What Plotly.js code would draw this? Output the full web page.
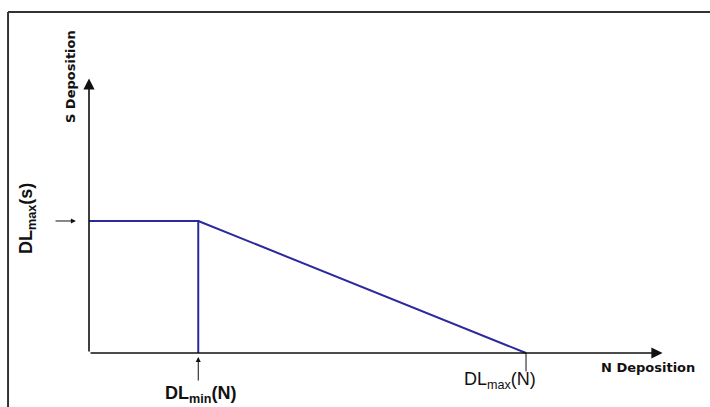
<!DOCTYPE html>
<html>
<head>
<meta charset="utf-8">
<script src="https://cdn.plot.ly/plotly-3.0.1.min.js"></script>
<style>html,body{margin:0;padding:0;background:#fff;}#chart{width:710px;height:407px;}</style>
</head>
<body>
<div id="chart"></div>
<script>
// Conceptual data (units of N and S deposition)
const dlMinN = 1;      // DL_min(N)
const dlMaxN = 4;      // DL_max(N)
const dlMaxS = 1;      // DL_max(S)
const axisMaxX = 5.25; // end of N axis arrow
const axisMaxY = 2.08; // end of S axis arrow

const lineX = [0, dlMinN, dlMinN, null, dlMinN, dlMaxN];
const lineY = [dlMaxS, dlMaxS, 0, null, dlMaxS, 0];

const labels = {
  sAxis: 'S Deposition',
  nAxis: 'N Deposition',
  dlMaxS: 'DL<sub>max</sub>(s)',
  dlMinN: 'DL<sub>min</sub>(N)',
  dlMaxN: 'DL<sub>max</sub>(N)'
};

const FONT = 'Liberation Sans, Arial, sans-serif';
const FONT_SMALL = 'DejaVu Sans, Liberation Sans, sans-serif';
const ink = '#111';

function arrow(x, y, ax, ay, head, w, size) {
  return {x: x, y: y, ax: ax, ay: ay, xref: 'x', yref: 'y', axref: 'x', ayref: 'y',
    text: '', showarrow: true, arrowhead: head, arrowwidth: w, arrowsize: size,
    arrowcolor: ink, standoff: 0, startstandoff: 0};
}
function label(text, x, y, size, angle, fam, bold) {
  return {x: x, y: y, xref: 'x', yref: 'y', text: bold === false ? text : '<b>' + text + '</b>', showarrow: false,
    textangle: angle || 0, font: {family: fam || FONT, size: size, color: ink},
    xanchor: 'center', yanchor: 'middle'};
}

const data = [{
  x: lineX, y: lineY, type: 'scatter', mode: 'lines',
  line: {color: '#2a2a9c', width: 2}, connectgaps: false, hoverinfo: 'skip'
}];

const layout = {
  width: 710, height: 407,
  margin: {l: 0, r: 0, t: 0, b: 0},
  paper_bgcolor: '#fff', plot_bgcolor: '#fff',
  showlegend: false,
  xaxis: {range: [-0.8146, 5.684], visible: false, fixedrange: true},
  yaxis: {range: [-0.409, 2.674], visible: false, fixedrange: true},
  shapes: [
    {type: 'line', xref: 'x', yref: 'y', x0: -0.741, x1: -0.741, y0: 2.583, y1: -0.45, line: {color: '#333', width: 2}},
    {type: 'line', xref: 'x', yref: 'y', x0: -0.741, x1: 5.8, y0: 2.583, y1: 2.583, line: {color: '#333', width: 2}},
    {type: 'line', xref: 'x', yref: 'y', x0: dlMaxN, x1: dlMaxN, y0: 0, y1: -0.14, line: {color: ink, width: 1}}
  ],
  annotations: [
    arrow(0, axisMaxY, 0, 0, 2, 1.6, 1.4),
    arrow(axisMaxX, 0, 0, 0, 2, 1.6, 1.4),
    arrow(-0.12, dlMaxS, -0.32, dlMaxS, 2, 1, 1),
    arrow(dlMinN, -0.03, dlMinN, -0.22, 2, 1, 1),
    label(labels.sAxis, -0.174, 2.098, 13, -90, FONT_SMALL),
    label(labels.dlMaxS, -0.567, 1.015, 18, -90),
    label(labels.dlMinN, 1.02, -0.318, 18, 0),
    label(labels.dlMaxN, 3.76, -0.205, 18, 0, FONT, false),
    label(labels.nAxis, 5.117, -0.106, 13, 0, FONT_SMALL)
  ]
};

Plotly.newPlot('chart', data, layout, {displayModeBar: false, staticPlot: true});
</script>
</body>
</html>
